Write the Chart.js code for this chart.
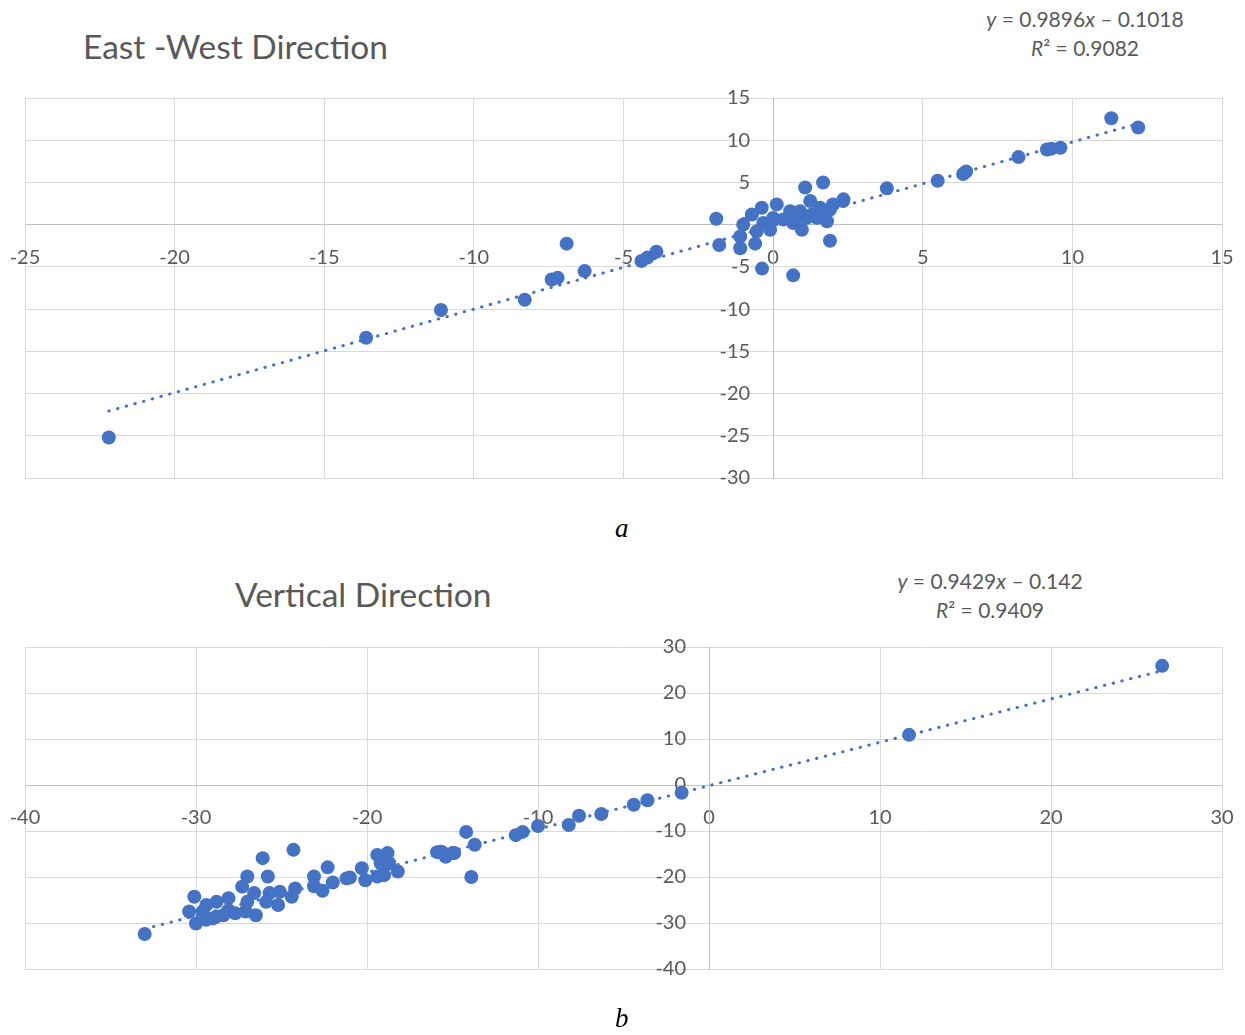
<!DOCTYPE html>
<html>
<head>
<meta charset="utf-8">
<script src="https://cdn.jsdelivr.net/npm/chart.js@4"></script>
<style>
  body { margin: 0; background: #fff; width: 1245px; height: 1035px; position: relative; overflow: hidden; font-family: Lato, sans-serif; }
  .cv { position: absolute; left: 0; width: 1245px; }
  .title { position: absolute; color: #595959; font-size: 33.5px; white-space: nowrap; }
  .eq { position: absolute; color: #595959; font-size: 21px; text-align: center; line-height: 29px; white-space: nowrap; }
  .lbl { position: absolute; font-family: "Liberation Serif", serif; font-style: italic; font-size: 27px; color: #000; }
</style>
</head>
<body>
<div class="title" style="left:83px; top:26px;">East -West Direction</div>
<div class="eq" style="left:965px; top:4px; width:240px;"><i>y</i> = 0.9896<i>x</i> – 0.1018<br><i>R</i>² = 0.9082</div>
<div class="cv" style="top:60px; height:440px;"><canvas id="ewChart"></canvas></div>
<div class="lbl" style="left:615px; top:513px;">a</div>

<div class="title" style="left:235px; top:574px;">Vertical Direction</div>
<div class="eq" style="left:870px; top:566px; width:240px;"><i>y</i> = 0.9429<i>x</i> – 0.142<br><i>R</i>² = 0.9409</div>
<div class="cv" style="top:610px; height:400px;"><canvas id="vChart"></canvas></div>
<div class="lbl" style="left:615px; top:1003px;">b</div>

<script>
// East-West direction points
const ewX = [-22.2, -13.6, -11.1, -8.3, -6.9, -7.4, -7.2, -6.3, -4.4, -4.2, -3.9, -1.9, -1.8, -1.1, -0.37, 0.67, 1.07, 1.67, 1.9, 2.34,
	3.8, 5.5, 6.35, 6.45, 8.2, 9.15, 9.3, 9.6, 11.3, 12.2,
	-0.6, -0.38, 0.12, -0.71, -1.0, -1.1, -0.33, -0.1, 0.57, 0.9, 0.67, 0.96, 1.24, 1.57, 1.8, 2.0, 2.35, 1.46, 0.34, 0, -0.55, 1.12, 1.3, 0.8, 1.6, 1.9];
const ewY = [-25.2, -13.4, -10.1, -8.9, -2.25, -6.5, -6.3, -5.5, -4.3, -3.9, -3.2, 0.7, -2.4, -2.8, -5.2, -6.0, 4.4, 5.0, -1.9, 2.8,
	4.3, 5.2, 6.0, 6.3, 8.0, 8.9, 9.0, 9.1, 12.6, 11.5,
	-2.25, 2.0, 2.4, 1.2, 0, -1.4, 0.2, -0.6, 1.6, 1.6, 0.2, -0.6, 2.8, 2.0, 0.4, 2.4, 3.0, 0.8, 0.6, 0.8, -0.8, 0.8, 1.2, 0.9, 1.5, 1.8];
// trendline ends as drawn
const ewTrendX = [-22.2, 12.2];
const ewTrendY = [-22.07, 11.97];

// Vertical direction points
const vX = [-33.0, 26.5, 11.7, -1.6, -3.6, -4.4, -6.3, -7.6, -8.2, -10.0, -10.9, -11.3, -13.7, -14.2, -13.9, -14.9, -15.9, -15.6, -15.4,
	-24.3, -26.1, -27.0, -25.8, -22.3, -23.1, -22.0, -23.1, -22.6, -24.2, -24.4, -25.1, -25.7, -25.2, -25.9, -26.6, -27.3, -27.0,
	-26.5, -27.1, -28.1, -28.1, -28.8, -28.8, -29.4, -30.1, -30.4, -30.0, -29.4, -29.0, -29.6, -28.4, -27.7, -21.2,
	-15.7, -15.0, -15.4, -19.4, -18.8, -19.2, -18.7, -18.2, -19.0, -19.4, -20.3, -21.0, -20.1];
const vY = [-32.4, 25.9, 10.9, -1.7, -3.3, -4.3, -6.3, -6.7, -8.7, -8.9, -10.2, -10.9, -13.0, -10.2, -20.0, -14.8, -14.6, -14.6, -15.2,
	-14.1, -15.9, -19.9, -19.9, -17.9, -19.9, -21.2, -22.0, -23.0, -22.5, -24.3, -23.2, -23.5, -26.1, -25.4, -23.5, -22.1, -25.4,
	-28.3, -27.5, -24.6, -27.2, -25.4, -28.6, -26.1, -24.3, -27.5, -30.1, -29.3, -29.0, -27.5, -28.3, -27.9, -20.3,
	-14.5, -14.8, -15.6, -15.2, -14.8, -17.0, -17.0, -18.8, -19.6, -19.9, -18.1, -20.1, -20.7];
const vTrendX = [-33.0, 26.5];
const vTrendY = [-31.26, 24.84];

const blue = '#4472C4';
const gridColor = '#d9d9d9';
const tickColor = '#595959';

function toPoints(xs, ys) {
	return xs.map((x, i) => ({ x: x, y: ys[i] }));
}

// axes cross at zero, so they should not eat into the plot area
function noFit(scale) {
	scale.paddingLeft = 0;
	scale.paddingRight = 0;
	scale.paddingTop = 0;
	scale.paddingBottom = 0;
	if (scale.isHorizontal()) scale.height = 0;
	else scale.width = 0;
}

function makeChart(id, xs, ys, tx, ty, xr, yr, pad) {
	return new Chart(document.getElementById(id), {
		type: 'scatter',
		data: {
			datasets: [
				{
					data: toPoints(tx, ty),
					showLine: true,
					pointRadius: 0,
					borderColor: blue,
					borderWidth: 3,
					borderDash: [0.5, 8.5],
					borderCapStyle: 'round',
					order: 0
				},
				{
					data: toPoints(xs, ys),
					pointRadius: 7,
					pointHoverRadius: 7,
					backgroundColor: blue,
					borderColor: blue,
					borderWidth: 0,
					order: 1
				}
			]
		},
		options: {
			responsive: true,
			maintainAspectRatio: false,
			animation: false,
			layout: { padding: pad },
			plugins: { legend: { display: false }, tooltip: { enabled: false } },
			scales: {
				x: {
					type: 'linear',
					position: { y: 0 },
					min: xr[0], max: xr[1],
					afterFit: noFit,
					ticks: { stepSize: xr[2], color: tickColor, font: { family: 'Lato', size: 20 }, padding: 21, maxRotation: 0 },
					grid: { color: gridColor, drawTicks: false },
					border: { color: '#bfbfbf' }
				},
				y: {
					type: 'linear',
					position: { x: 0 },
					min: yr[0], max: yr[1],
					afterFit: noFit,
					ticks: {
						stepSize: yr[2], color: tickColor, font: { family: 'Lato', size: 20 },
						// positioned axis ignores padding, so push labels off the axis
						callback: v => v + '    \u2009'
					},
					grid: { color: gridColor, drawTicks: false },
					border: { color: '#bfbfbf' }
				}
			}
		}
	});
}

makeChart('ewChart', ewX, ewY, ewTrendX, ewTrendY, [-25, 15, 5], [-30, 15, 5], { left: 25, right: 23, top: 38, bottom: 22 });
makeChart('vChart', vX, vY, vTrendX, vTrendY, [-40, 30, 10], [-40, 30, 10], { left: 25, right: 23, top: 37, bottom: 41 });
</script>
</body>
</html>
